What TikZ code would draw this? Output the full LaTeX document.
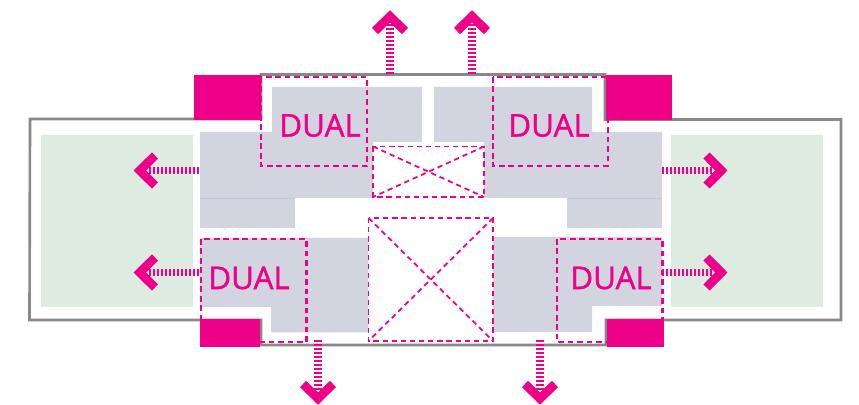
\documentclass[tikz,border=0pt]{standalone}
\usepackage{fontspec}
\setmainfont{Open Sans}
\newfontfamily\dualfont{Open Sans}[FakeBold=1.4]
\usepackage{xcolor}
\usetikzlibrary{positioning}
\definecolor{duallpink}{RGB}{238,0,136}
\definecolor{corefill}{RGB}{210,213,223}
\definecolor{coreedge}{RGB}{196,199,216}
\definecolor{greenfill}{RGB}{222,235,225}
\definecolor{wallgray}{RGB}{136,136,136}

\begin{document}
\begin{tikzpicture}[x=0.02cm,y=-0.02cm]
	\begin{scope}

\tikzset{core/.style={fill=corefill,draw=none}}
\tikzset{terrace/.style={fill=greenfill,draw=none}}
\tikzset{block/.style={fill=duallpink,draw=none}}
\tikzset{wall/.style={draw=wallgray,line width=1.5pt}}
\tikzset{dualbox/.style={draw=duallpink,line width=1.7pt,dash pattern=on 3.2pt off 2.2pt}}
\tikzset{voidbox/.style={draw=duallpink,line width=1pt,dash pattern=on 3pt off 2.2pt}}
\tikzset{shaft/.style={draw=duallpink,line width=4.5pt,dash pattern=on 1.1pt off 1.2pt}}
\tikzset{chevron/.style={draw=duallpink,line width=5pt,miter limit=4}}
\tikzset{duallabel/.style={text=duallpink,inner sep=0pt,font=\dualfont\fontsize{17.8}{20}\selectfont}}

\useasboundingbox (0,0) rectangle (859,405);

% terraces
\fill[terrace] (41,135) rectangle (193,307);
\fill[terrace] (671,135) rectangle (823,307);

% the outer wall
\draw[wall] (30,119) -- (261,119) -- (261,74.5) -- (605,74.5) -- (605,119.5) -- (841,119.5)
	-- (841,320) -- (606,320) -- (606,345) -- (261,345) -- (261,320) -- (29.5,320) -- cycle;

% flats
\fill[core] (272,87) -- (422,87) -- (422,142) -- (373,142) -- (373,198) -- (200,198) -- (200,132) -- (272,132) -- cycle;
\fill[core] (434,87) -- (592,87) -- (592,132) -- (662,132) -- (662,198) -- (484,198) -- (484,142) -- (434,142) -- cycle;
\fill[core] (200,198) rectangle (295,228);
\fill[core] (567,198) rectangle (662,228);
\draw[coreedge,line width=0.4pt] (200,198) -- (295,198);
\draw[coreedge,line width=0.4pt] (567,198) -- (662,198);
\fill[core] (200,238) -- (368,238) -- (368,332.5) -- (271,332.5) -- (271,307) -- (200,307) -- cycle;
\fill[core] (493,237) -- (662,237) -- (662,306) -- (592,306) -- (592,332) -- (493,332) -- cycle;

% dual aspect flats
\draw[dualbox] (261,77) rectangle (367,166);
\draw[dualbox] (493,77) rectangle (608,166);
\draw[dualbox] (201,239) rectangle (306.5,342);
\draw[dualbox] (557,239) rectangle (662.5,342);

% corner blocks
\fill[block] (194,75) rectangle (261,120);
\fill[block] (606,75) rectangle (672,120);
\fill[block] (200,319) rectangle (260,347);
\fill[block] (607,319) rectangle (664,347);

% voids
\draw[voidbox] (373,146.5) rectangle (484,197);
\draw[voidbox] (373,146.5) -- (484,197);
\draw[voidbox] (484,146.5) -- (373,197);
\draw[voidbox] (368.5,218) rectangle (493,341);
\draw[voidbox] (368.5,218) -- (493,341);
\draw[voidbox] (493,218) -- (368.5,341);

\node(dual1)[duallabel] at (320,125.5){DUAL};
\node(dual2)[duallabel] at (549,125.5){DUAL};
\node(dual3)[duallabel] at (249,278){DUAL};
\node(dual4)[duallabel] at (611,278){DUAL};

% views up and down
\foreach \x in {390,472}
{
	\draw[shaft] (\x,74) -- (\x,24);
	\draw[chevron] (\x-15,31) -- (\x,16.4) -- (\x+15,31);
}
\foreach \x in {318,540}
{
	\draw[shaft] (\x,340) -- (\x,390);
	\draw[chevron] (\x-15,384) -- (\x,398.6) -- (\x+15,384);
}

% views left and right
\foreach \y in {170.5,272.5}
{
	\draw[shaft] (199,\y) -- (148,\y);
	\draw[chevron] (155,\y-15) -- (139.9,\y) -- (155,\y+15);
	\draw[shaft] (662,\y) -- (714,\y);
	\draw[chevron] (706.5,\y-15) -- (721.3,\y) -- (706.5,\y+15);
}

	\end{scope}
\end{tikzpicture}
\end{document}
